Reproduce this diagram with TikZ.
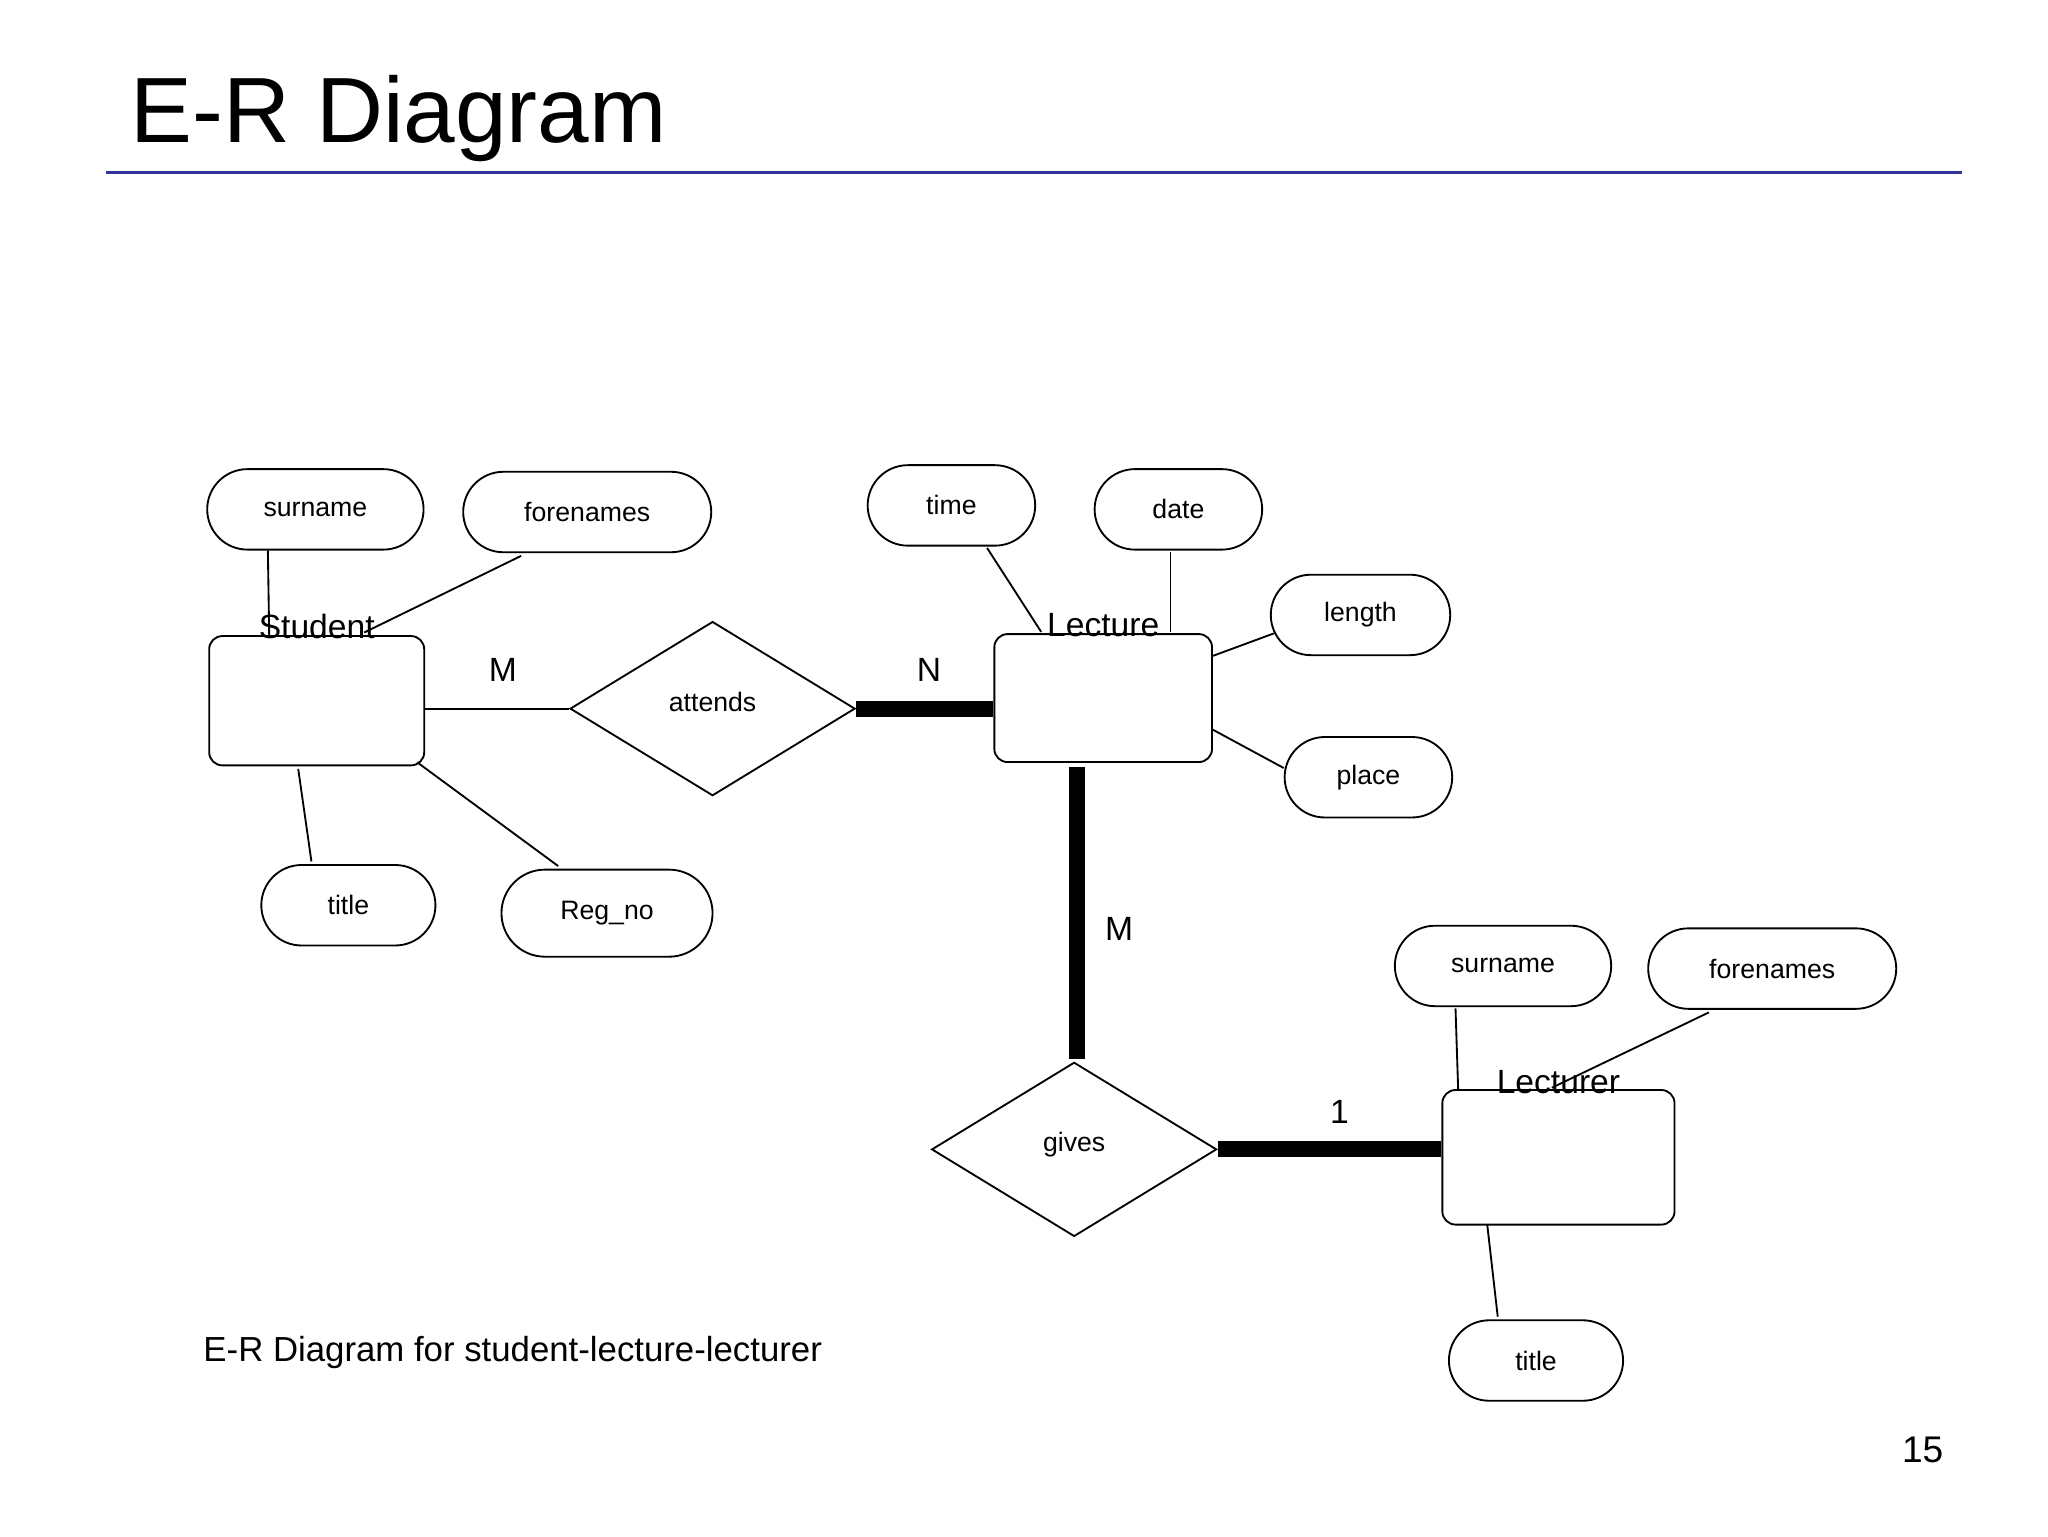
\documentclass[tikz,border=0pt]{standalone}
\usepackage{fontspec}
\setmainfont{Liberation Sans}
\usetikzlibrary{shapes.geometric,shapes.misc,calc}
\definecolor{navy}{HTML}{333399}
\begin{document}
\begin{tikzpicture}[x=0.02cm,y=-0.02cm,
  attr/.style={rounded rectangle,draw,line width=0.8pt,inner sep=0pt,minimum height=1.22cm,font=\fontsize{11.5}{13}\selectfont},
  ent/.style={rectangle,rounded corners=0.2cm,draw,line width=0.8pt,inner sep=0pt},
  rel/.style={diamond,draw,line width=0.8pt,inner sep=0pt,minimum width=4.32cm,minimum height=2.64cm,font=\fontsize{11.5}{13}\selectfont},
  etext/.style={font=\fontsize{14.5}{16}\selectfont},
  card/.style={font=\fontsize{14.5}{16}\selectfont},
  ln/.style={line width=0.8pt},
  thick line/.style={line width=6.8pt}]
\useasboundingbox (0,0) rectangle (1552,1164);
\node[anchor=base west,font=\fontsize{40}{44}\selectfont] (title) at (93,108) {E-R Diagram};
\draw[navy,line width=1.4pt] (80,131) coordinate (tl) -- (1487,131) coordinate (tr);

\node[attr,minimum width=3.28cm] (surname1) at (239,386) {surname};
\node[attr,minimum width=3.76cm] (forenames1) at (445,388) {forenames};
\node[ent,minimum width=3.26cm,minimum height=1.96cm,label={[etext,yshift=-0.18cm]north:Student}] (student) at (240,531) {};
\node[rel] (attends) at (540,537) {\raisebox{0.22cm}{attends}};
\node[ent,minimum width=3.3cm,minimum height=1.94cm,label={[etext,yshift=-0.18cm]north:Lecture}] (lecture) at (836,529) {};
\node[attr,minimum width=2.54cm] (time) at (721,383) {time};
\node[attr,minimum width=2.54cm] (date) at (893,386) {date};
\node[attr,minimum width=2.72cm] (length) at (1031,466) {length};
\node[attr,minimum width=2.54cm] (place) at (1037,589) {place};
\node[attr,minimum width=2.64cm] (title1) at (264,686) {title};
\node[attr,minimum width=3.2cm,minimum height=1.32cm] (regno) at (460,692) {Reg\_no};
\node[rel] (gives) at (814,871) {\raisebox{0.22cm}{gives}};
\node[ent,minimum width=3.52cm,minimum height=2.04cm,label={[etext,yshift=-0.2cm]north:Lecturer}] (lecturer) at (1181,877) {};
\node[attr,minimum width=3.28cm] (surname2) at (1139,732) {surname};
\node[attr,minimum width=3.76cm] (forenames2) at (1343,734) {forenames};
\node[attr,minimum width=2.64cm] (title2) at (1164,1031) {title};

\draw[ln] ($(surname1.south)+(-36,0)$) -- ($(student.north)+(-36,0)$);
\draw[ln] ($(forenames1.south)+(-50,2)$) -- ($(student.north)+(36,-2)$);
\draw[ln] ($(student.east)+(0,6)$) -- (attends.west);
\draw[ln] ($(student.south)+(-14,2)$) -- ($(title1.north)+(-28,-2)$);
\draw[ln] ($(student.south east)+(-6,-3)$) -- ($(regno.north)+(-37,-2)$);
\draw[thick line] (attends.east) -- ($(lecture.west)+(0,8)$);
\draw[ln] ($(time.south)+(27,1)$) -- ($(lecture.north)+(-47,-1)$);
\draw[ln] ($(date.south)+(-6,1)$) -- ($(lecture.north)+(51,-1)$);
\draw[ln] ($(length.west)+(3,14)$) -- ($(lecture.east)+(0,-32)$);
\draw[ln] ($(place.west)+(0,-7)$) -- ($(lecture.east)+(0,24)$);
\draw[thick line] ($(lecture.south)+(-20,3)$) -- ($(gives.north)+(2,-2)$);
\draw[thick line] (gives.east) -- ($(lecturer.west)+(0,-6)$);
\draw[ln] ($(surname2.south)+(-36,1)$) -- ($(lecturer.north)+(-76,0)$);
\draw[ln] ($(forenames2.south)+(-48,2)$) -- ($(lecturer.north)+(-5,-1)$);
\draw[ln] ($(lecturer.south)+(-54,-1)$) -- ($(title2.north)+(-29,-2)$);

\node[card] (m1) at (381,508) {M};
\node[card] (n1) at (704,508) {N};
\node[card] (m2) at (848,704) {M};
\node[card] (one) at (1015,843) {1};
\node[anchor=west,font=\fontsize{15}{17}\selectfont] (caption) at (148,1025) {E-R Diagram for student-lecture-lecturer};
\node[font=\fontsize{16}{18}\selectfont] (page) at (1457,1099) {15};
\end{tikzpicture}
\end{document}
